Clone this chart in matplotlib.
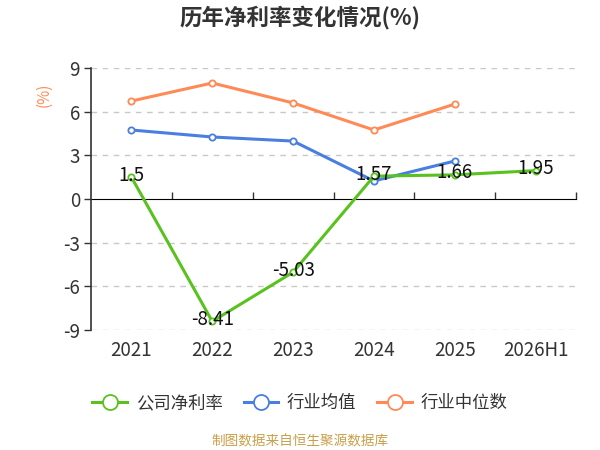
import matplotlib
matplotlib.use("Agg")
import matplotlib.pyplot as plt
import numpy as np

plt.rcParams['font.family'] = ['Noto Sans CJK SC', 'DejaVu Sans']

categories = ["2021", "2022", "2023", "2024", "2025", "2026H1"]
company = [1.5, -8.41, -5.03, 1.57, 1.66, 1.95]
industry_avg = [4.74, 4.26, 3.98, 1.24, 2.61]
industry_median = [6.73, 7.97, 6.6, 4.74, 6.52]
yticks = [-9, -6, -3, 0, 3, 6, 9]

c_green = "#5ac21f"
c_blue = "#4a7ee0"
c_orange = "#ff8a55"

fig = plt.figure(figsize=(6, 4.5), dpi=100)
ax = fig.add_axes([91/600, 1-330/450, (576-91)/600, (330-68)/450])

x = np.arange(len(categories))
mk = dict(marker='o', markersize=4.5, markerfacecolor='white', markeredgewidth=1.3)
ax.plot(x[:len(industry_median)], industry_median, color=c_orange, lw=2.2, label="行业中位数", zorder=3, **mk)
ax.plot(x[:len(industry_avg)], industry_avg, color=c_blue, lw=2.2, label="行业均值", zorder=3, **mk)
ax.plot(x, company, color=c_green, lw=2.2, label="公司净利率", zorder=4, **mk)

for xi, v in zip(x, company):
    ax.annotate(f"{v:g}", (xi, v), xytext=(0, 1.5), textcoords='offset points',
                ha='center', va='center', fontsize=13.5, color='#111111', zorder=5)

ax.set_xlim(-0.5, len(categories) - 0.5)
ax.set_ylim(-9, 9)
ax.set_yticks(yticks)
ax.set_yticklabels([str(t) for t in yticks])
ax.set_xticks(x)
ax.set_xticklabels(categories)
ax.tick_params(axis='x', length=0, pad=7, labelsize=13.5, labelcolor='#333333')
ax.tick_params(axis='y', length=5, width=1, color='#333333', pad=3, labelsize=13.5, labelcolor='#333333')
for t in yticks:
    if t != 0:
        ax.axhline(t, color='#c8c8c8', lw=1, ls=(0, (4, 4)), zorder=1)
for s in ['top', 'right', 'bottom']:
    ax.spines[s].set_visible(False)
ax.spines['left'].set_color('#333333')
ax.spines['left'].set_linewidth(1.2)

sec = ax.secondary_xaxis(0.5)
sec.set_xticks(np.arange(0.5, len(categories), 1.0))
sec.set_xticklabels([])
sec.tick_params(length=5, width=1, color='#333333')
sec.spines['bottom'].set_color('#333333')
sec.spines['bottom'].set_linewidth(1.2)

fig.text(0.5, 1-18/450, "历年净利率变化情况(%)", ha='center', va='center', fontsize=16.2,
         fontweight='bold', color='#333333')
fig.text(44/600, 1-95/450, "(%)", ha='center', va='center', rotation=90, fontsize=11, color=c_orange)

handles, labels = ax.get_legend_handles_labels()
order = [2, 1, 0]
fig.legend([handles[i] for i in order], [labels[i] for i in order], loc='center',
           bbox_to_anchor=(0.5, 1-403/450), ncol=3, frameon=False, fontsize=12.5,
           handlelength=2.0, columnspacing=1.2, handletextpad=0.5, labelcolor='#333333',
           markerscale=2.4)

fig.text(0.5, 1-441/450, "制图数据来自恒生聚源数据库", ha='center', va='center', fontsize=9.8, color='#c9a04a')

fig.savefig("out.png", dpi=100)
